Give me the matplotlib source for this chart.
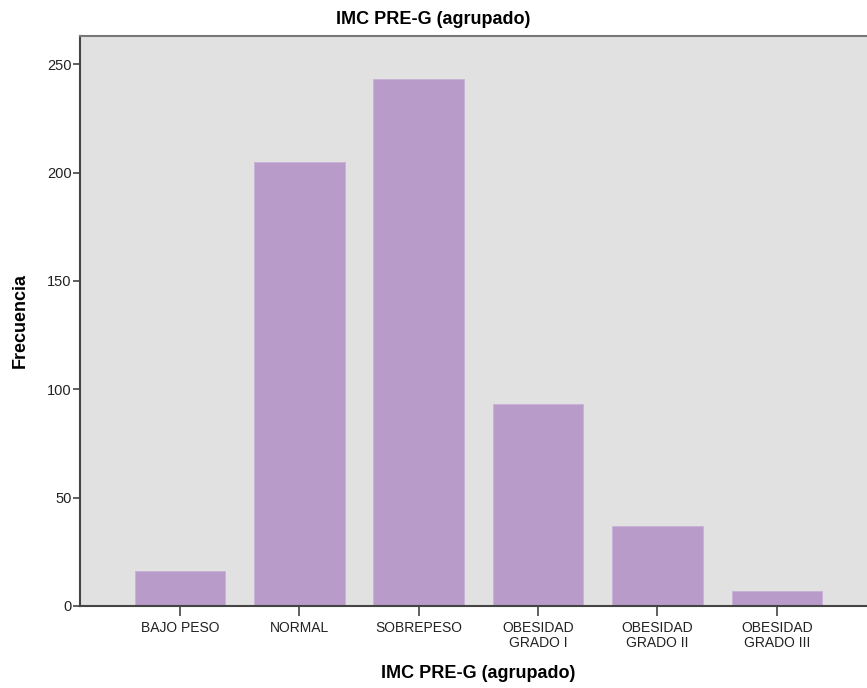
import matplotlib
matplotlib.use("Agg")
import matplotlib.pyplot as plt

# data
categorias = ["BAJO PESO", "NORMAL", "SOBREPESO", "OBESIDAD\nGRADO I",
              "OBESIDAD\nGRADO II", "OBESIDAD\nGRADO III"]
frecuencias = [16, 205, 243, 93, 37, 7]
y_ticks = [0, 50, 100, 150, 200, 250]

plt.rcParams["font.family"] = ["Liberation Sans", "DejaVu Sans"]

fig = plt.figure(figsize=(8.67, 6.88), dpi=100)
ax = fig.add_axes([0.0923, 0.1192, 0.919, 0.8285])
ax.set_facecolor("#E1E1E1")

x = list(range(len(categorias)))
ax.bar(x, frecuencias, width=0.76, color="#B89BC9", edgecolor="#C8B0D6", linewidth=0.6)

ax.set_xlim(-0.837, 5.837)
ax.set_ylim(0, 263)
ax.set_xticks(x)
ax.set_xticklabels(categorias, fontsize=10, color="#222222", linespacing=1.05)
ax.set_yticks(y_ticks)
ax.set_yticklabels([str(v) for v in y_ticks], fontsize=10.5, color="#222222")
ax.tick_params(axis="x", length=7, width=1.2, color="#444444", pad=4)
ax.tick_params(axis="y", length=5, width=1.2, color="#444444", pad=1)

for side in ["left", "bottom"]:
    ax.spines[side].set_color("#444444")
    ax.spines[side].set_linewidth(1.5)
ax.spines["top"].set_color("#777777")
ax.spines["top"].set_linewidth(1.5)
ax.spines["right"].set_visible(False)

ax.set_xlabel("IMC PRE-G (agrupado)", fontsize=13, fontweight="bold", labelpad=11)
ax.set_ylabel("Frecuencia", fontsize=13, fontweight="bold", labelpad=13)
fig.text(0.5, 0.971, "IMC PRE-G (agrupado)", ha="center", va="center",
         fontsize=13, fontweight="bold")

fig.savefig("out.png", dpi=100)
